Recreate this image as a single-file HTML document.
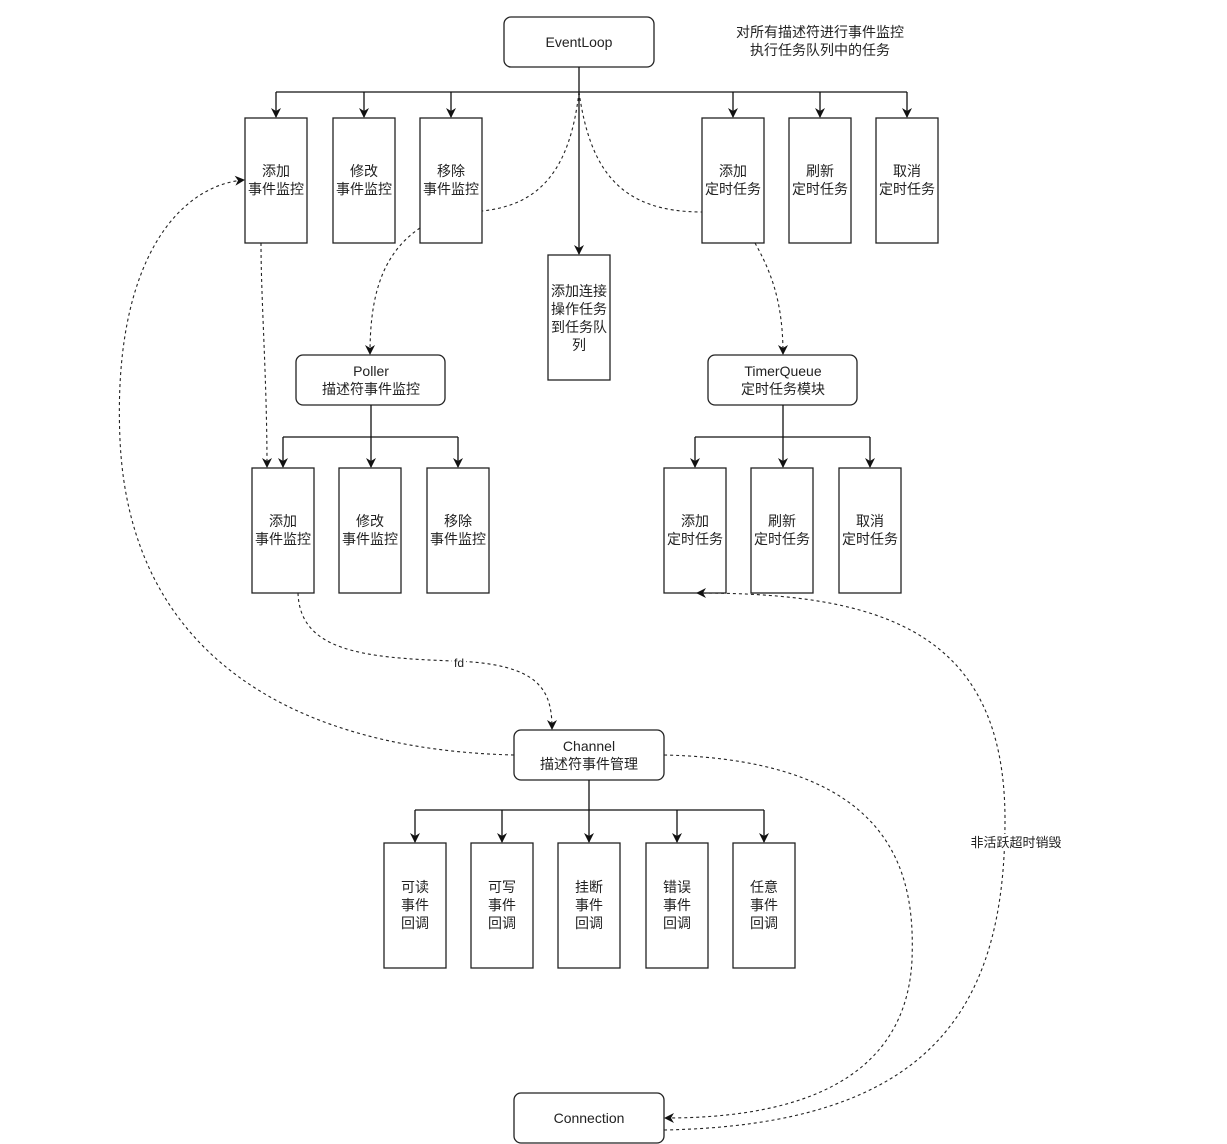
<!DOCTYPE html>
<html><head><meta charset="utf-8"><style>
html,body{margin:0;padding:0;background:#fff;}
svg{display:block;}
text{font-family:"Liberation Sans","Noto Sans CJK SC",sans-serif;font-size:14px;fill:#222;text-anchor:middle;}
.b{fill:#fff;stroke:#222;stroke-width:1.3;}
.l{stroke:#111;stroke-width:1.3;fill:none;}
.d{stroke:#222;stroke-width:1.1;fill:none;stroke-dasharray:3,3;}
</style></head><body>
<svg width="1227" height="1144" viewBox="0 0 1227 1144" xmlns="http://www.w3.org/2000/svg">
<defs><marker id="a" markerWidth="10" markerHeight="10" refX="9" refY="5" orient="auto" markerUnits="userSpaceOnUse"><path d="M0,0 L10,5 L0,10 L3,5 Z" fill="#111"/></marker></defs>

<!-- EventLoop -->
<rect class="b" x="504" y="17" width="150" height="50" rx="7"/>
<text x="579" y="47">EventLoop</text>
<text x="820" y="37">对所有描述符进行事件监控</text>
<text x="820" y="55">执行任务队列中的任务</text>
<path class="l" d="M579,67 V92 M276,92 H907"/>
<path class="l" d="M276,92 V117" marker-end="url(#a)"/>
<path class="l" d="M364,92 V117" marker-end="url(#a)"/>
<path class="l" d="M451,92 V117" marker-end="url(#a)"/>
<path class="l" d="M733,92 V117" marker-end="url(#a)"/>
<path class="l" d="M820,92 V117" marker-end="url(#a)"/>
<path class="l" d="M907,92 V117" marker-end="url(#a)"/>
<path class="l" d="M579,92 V254" marker-end="url(#a)"/>

<g>
<rect class="b" x="245" y="118" width="62" height="125"/><text x="276" y="176">添加</text><text x="276" y="194">事件监控</text>
<rect class="b" x="333" y="118" width="62" height="125"/><text x="364" y="176">修改</text><text x="364" y="194">事件监控</text>
<rect class="b" x="420" y="118" width="62" height="125"/><text x="451" y="176">移除</text><text x="451" y="194">事件监控</text>
<rect class="b" x="702" y="118" width="62" height="125"/><text x="733" y="176">添加</text><text x="733" y="194">定时任务</text>
<rect class="b" x="789" y="118" width="62" height="125"/><text x="820" y="176">刷新</text><text x="820" y="194">定时任务</text>
<rect class="b" x="876" y="118" width="62" height="125"/><text x="907" y="176">取消</text><text x="907" y="194">定时任务</text>
<rect class="b" x="548" y="255" width="62" height="125"/>
<text x="579" y="296">添加连接</text><text x="579" y="314">操作任务</text><text x="579" y="332">到任务队</text><text x="579" y="350">列</text>
</g>

<!-- dashed from bus -->
<path class="d" d="M579,92 C570,170 540,205 482,211"/>
<path class="d" d="M579,92 C590,170 620,212 702,212"/>
<path class="d" d="M420,228 C380,255 370,300 370,354" marker-end="url(#a)"/>
<path class="d" d="M755,243 C770,270 783,300 783,354" marker-end="url(#a)"/>
<path class="d" d="M261,243 C261,300 267,380 267,467" marker-end="url(#a)"/>

<!-- Poller -->
<rect class="b" x="296" y="355" width="149" height="50" rx="7"/>
<text x="371" y="376">Poller</text><text x="371" y="394">描述符事件监控</text>
<path class="l" d="M371,405 V437 M283,437 H458"/>
<path class="l" d="M283,437 V467" marker-end="url(#a)"/>
<path class="l" d="M371,437 V467" marker-end="url(#a)"/>
<path class="l" d="M458,437 V467" marker-end="url(#a)"/>
<rect class="b" x="252" y="468" width="62" height="125"/><text x="283" y="526">添加</text><text x="283" y="544">事件监控</text>
<rect class="b" x="339" y="468" width="62" height="125"/><text x="370" y="526">修改</text><text x="370" y="544">事件监控</text>
<rect class="b" x="427" y="468" width="62" height="125"/><text x="458" y="526">移除</text><text x="458" y="544">事件监控</text>

<!-- TimerQueue -->
<rect class="b" x="708" y="355" width="149" height="50" rx="7"/>
<text x="783" y="376">TimerQueue</text><text x="783" y="394">定时任务模块</text>
<path class="l" d="M783,405 V437 M695,437 H870"/>
<path class="l" d="M695,437 V467" marker-end="url(#a)"/>
<path class="l" d="M783,437 V467" marker-end="url(#a)"/>
<path class="l" d="M870,437 V467" marker-end="url(#a)"/>
<rect class="b" x="664" y="468" width="62" height="125"/><text x="695" y="526">添加</text><text x="695" y="544">定时任务</text>
<rect class="b" x="751" y="468" width="62" height="125"/><text x="782" y="526">刷新</text><text x="782" y="544">定时任务</text>
<rect class="b" x="839" y="468" width="62" height="125"/><text x="870" y="526">取消</text><text x="870" y="544">定时任务</text>

<!-- fd -->
<path class="d" d="M298,593 C300,650 360,658 455,661 C540,664 552,690 552,729" marker-end="url(#a)"/>
<rect x="452" y="656" width="14" height="14" fill="#fff"/>
<text x="459" y="667" style="font-size:12px">fd</text>

<!-- Channel -->
<rect class="b" x="514" y="730" width="150" height="50" rx="7"/>
<text x="589" y="751">Channel</text><text x="589" y="769">描述符事件管理</text>
<path class="d" d="M514,755 C300,750 130,660 120,440 C112,260 180,185 244,180" marker-end="url(#a)"/>
<path class="d" d="M664,755 C900,760 915,880 912,960 C905,1100 760,1118 665,1118" marker-end="url(#a)"/>
<path class="d" d="M664,1130 C930,1125 1005,1010 1005,820 C1005,630 880,593 697,593" marker-end="url(#a)"/>
<rect x="968" y="834" width="96" height="16" fill="#fff"/>
<text x="1016" y="847" style="font-size:13px">非活跃超时销毁</text>

<path class="l" d="M589,780 V810 M415,810 H764"/>
<path class="l" d="M415,810 V842" marker-end="url(#a)"/>
<path class="l" d="M502,810 V842" marker-end="url(#a)"/>
<path class="l" d="M589,810 V842" marker-end="url(#a)"/>
<path class="l" d="M677,810 V842" marker-end="url(#a)"/>
<path class="l" d="M764,810 V842" marker-end="url(#a)"/>
<rect class="b" x="384" y="843" width="62" height="125"/><text x="415" y="892">可读</text><text x="415" y="910">事件</text><text x="415" y="928">回调</text>
<rect class="b" x="471" y="843" width="62" height="125"/><text x="502" y="892">可写</text><text x="502" y="910">事件</text><text x="502" y="928">回调</text>
<rect class="b" x="558" y="843" width="62" height="125"/><text x="589" y="892">挂断</text><text x="589" y="910">事件</text><text x="589" y="928">回调</text>
<rect class="b" x="646" y="843" width="62" height="125"/><text x="677" y="892">错误</text><text x="677" y="910">事件</text><text x="677" y="928">回调</text>
<rect class="b" x="733" y="843" width="62" height="125"/><text x="764" y="892">任意</text><text x="764" y="910">事件</text><text x="764" y="928">回调</text>

<!-- Connection -->
<rect class="b" x="514" y="1093" width="150" height="50" rx="7"/>
<text x="589" y="1123">Connection</text>
</svg>
</body></html>
